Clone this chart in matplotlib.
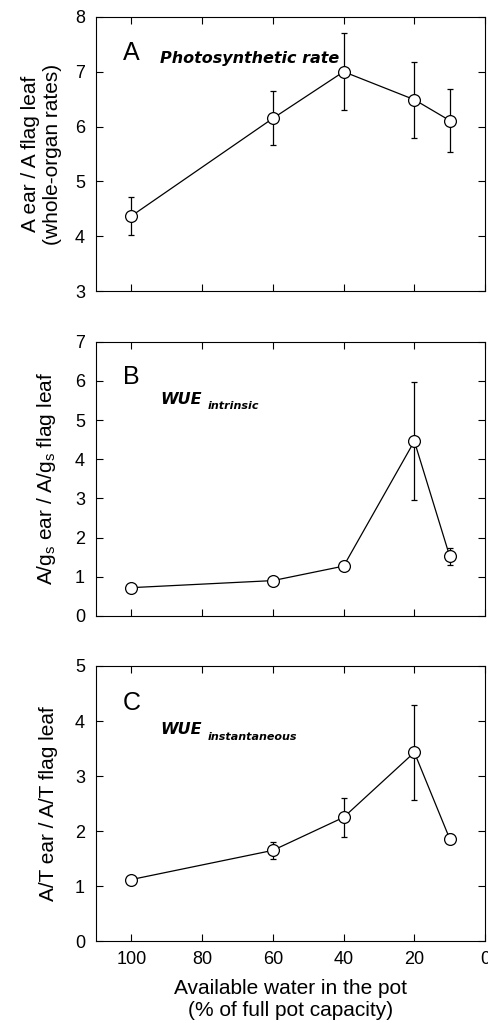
import matplotlib.pyplot as plt

plt.rcParams['font.family'] = ['Liberation Sans', 'DejaVu Sans']
plt.rcParams['mathtext.default'] = 'regular'

# available water (% of full pot capacity)
water = [100, 60, 40, 20, 10]

# A: photosynthetic rate ratio
ratio_A = [4.37, 6.15, 7.0, 6.49, 6.11]
err_A = [0.35, 0.49, 0.70, 0.69, 0.57]

# B: WUE intrinsic ratio
ratio_B = [0.72, 0.90, 1.27, 4.46, 1.52]
err_B = [0.0, 0.0, 0.0, 1.50, 0.22]

# C: WUE instantaneous ratio
ratio_C = [1.12, 1.65, 2.25, 3.43, 1.86]
err_C = [0.0, 0.16, 0.35, 0.86, 0.08]

fig = plt.figure(figsize=(4.88, 10.23), dpi=100)
axA = fig.add_axes([0.197, 0.7155, 0.797, 0.268])
axB = fig.add_axes([0.197, 0.398, 0.797, 0.268])
axC = fig.add_axes([0.197, 0.080, 0.797, 0.269])

panels = [
    (axA, ratio_A, err_A, (3, 8), 'A', 'A ear / A flag leaf\n(whole-organ rates)'),
    (axB, ratio_B, err_B, (0, 7), 'B', 'A/g$_s$ ear / A/g$_s$ flag leaf'),
    (axC, ratio_C, err_C, (0, 5), 'C', 'A/T ear / A/T flag leaf'),
]

for ax, y, e, lim, letter, lab in panels:
    ax.errorbar(water, y, yerr=e, color='black', lw=0.9, elinewidth=0.9,
                capsize=2.5, capthick=0.9, marker='o', ms=8.5,
                mfc='white', mec='black', mew=0.9, zorder=3)
    ax.set_xlim(110, 0)
    ax.set_ylim(*lim)
    ax.set_xticks([100, 80, 60, 40, 20, 0])
    ax.set_yticks(range(lim[0], lim[1] + 1))
    ax.tick_params(direction='in', length=5, width=0.8, top=True, right=True,
                   labelsize=13)
    ax.tick_params(axis='y', pad=8)
    ax.tick_params(axis='x', pad=7)
    for s in ax.spines.values():
        s.set_linewidth(0.8)
    ax.set_ylabel(lab, fontsize=15, linespacing=1.2)
    ax.text(0.069, 0.87 if letter != 'C' else 0.865, letter,
            transform=ax.transAxes, fontsize=18, va='center', ha='left')
    if ax is not axC:
        ax.tick_params(labelbottom=False)

axA.yaxis.set_label_coords(-0.087, 0.5)
axB.yaxis.set_label_coords(-0.097, 0.5)
axC.yaxis.set_label_coords(-0.097, 0.5)

anno = dict(fontweight='bold', fontstyle='italic', family='DejaVu Sans',
            va='center', ha='left')
axA.text(0.165, 0.85, 'Photosynthetic rate', transform=axA.transAxes,
         fontsize=11.5, **anno)
axB.text(0.164, 0.79, 'WUE', transform=axB.transAxes, fontsize=11.5, **anno)
axB.text(0.288, 0.765, 'intrinsic', transform=axB.transAxes, fontsize=8, **anno)
axC.text(0.164, 0.768, 'WUE', transform=axC.transAxes, fontsize=11.5, **anno)
axC.text(0.288, 0.743, 'instantaneous', transform=axC.transAxes, fontsize=8, **anno)

axC.set_xlabel('Available water in the pot\n(% of full pot capacity)',
               fontsize=15, linespacing=1.2, labelpad=8)

fig.savefig('out.png', dpi=100)
